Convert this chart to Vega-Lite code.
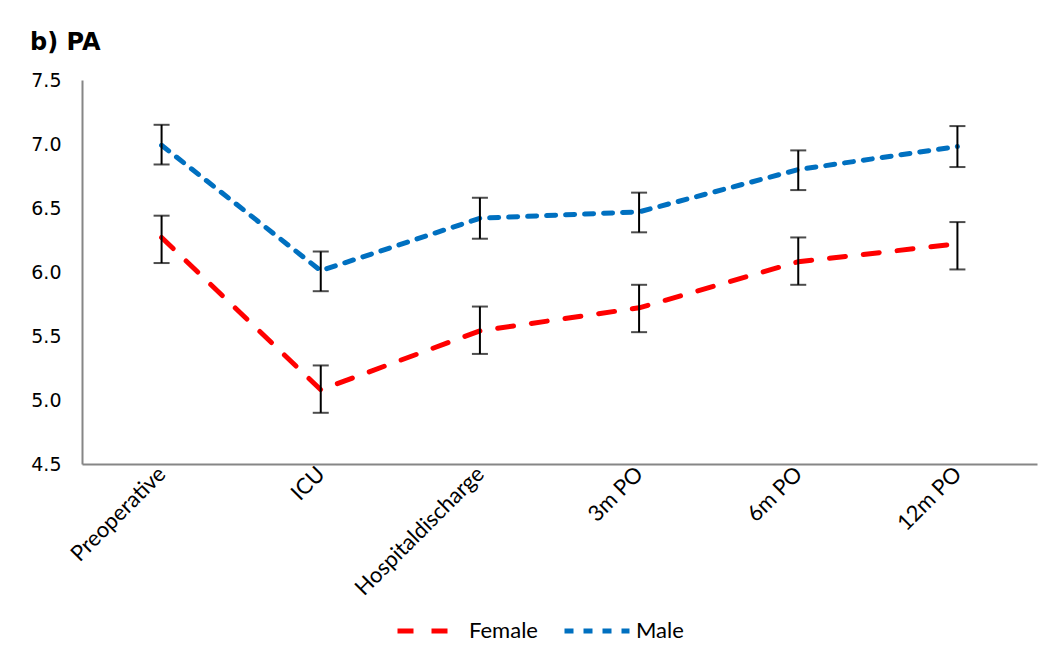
{
  "$schema": "https://vega.github.io/schema/vega-lite/v6.json",
  "autosize": {"type": "none"},
  "width": 955,
  "height": 384,
  "padding": {"left": 82, "top": 80, "right": 13, "bottom": 191},
  "background": "white",
  "title": {"text": "b) PA", "anchor": "start", "frame": "group", "dx": -52, "dy": -4, "font": "DejaVu Sans", "fontSize": 24, "fontWeight": "bold", "color": "#000000", "offset": 12},
  "data": {"values": [
    {"time": "Preoperative", "sex": "Female", "mean": 6.27, "lo": 6.07, "hi": 6.44},
    {"time": "ICU", "sex": "Female", "mean": 5.08, "lo": 4.90, "hi": 5.27},
    {"time": "Hospitaldischarge", "sex": "Female", "mean": 5.54, "lo": 5.36, "hi": 5.73},
    {"time": "3m PO", "sex": "Female", "mean": 5.72, "lo": 5.53, "hi": 5.90},
    {"time": "6m PO", "sex": "Female", "mean": 6.08, "lo": 5.90, "hi": 6.27},
    {"time": "12m PO", "sex": "Female", "mean": 6.22, "lo": 6.02, "hi": 6.39},
    {"time": "Preoperative", "sex": "Male", "mean": 6.99, "lo": 6.84, "hi": 7.15},
    {"time": "ICU", "sex": "Male", "mean": 6.01, "lo": 5.85, "hi": 6.16},
    {"time": "Hospitaldischarge", "sex": "Male", "mean": 6.42, "lo": 6.26, "hi": 6.58},
    {"time": "3m PO", "sex": "Male", "mean": 6.47, "lo": 6.31, "hi": 6.62},
    {"time": "6m PO", "sex": "Male", "mean": 6.80, "lo": 6.64, "hi": 6.95},
    {"time": "12m PO", "sex": "Male", "mean": 6.98, "lo": 6.82, "hi": 7.14}
  ]},
  "encoding": {
    "x": {
      "field": "time", "type": "ordinal",
      "sort": ["Preoperative", "ICU", "Hospitaldischarge", "3m PO", "6m PO", "12m PO"],
      "scale": {"type": "point", "padding": 0.5},
      "axis": {"title": null, "labelAngle": -45, "labelAlign": "right", "labelBaseline": "middle", "labelPadding": 6, "labelFont": "Lato", "labelFontSize": 22, "labelColor": "#000000", "ticks": false, "domainColor": "#868686", "domainWidth": 2, "grid": false}
    }
  },
  "layer": [
    {
      "mark": {"type": "line", "strokeWidth": 5, "strokeCap": "round"},
      "encoding": {
        "y": {
          "field": "mean", "type": "quantitative",
          "scale": {"domain": [4.5, 7.5], "nice": false, "zero": false},
          "axis": {"title": null, "values": [4.5, 5.0, 5.5, 6.0, 6.5, 7.0, 7.5], "format": ".1f", "labelFont": "DejaVu Sans", "labelFontSize": 19, "labelColor": "#000000", "labelPadding": 21, "ticks": false, "grid": false, "domainColor": "#868686", "domainWidth": 2}
        },
        "color": {
          "field": "sex", "type": "nominal",
          "scale": {"domain": ["Female", "Male"], "range": ["#FF0000", "#0070C0"]},
          "legend": {"title": null, "orient": "none", "legendX": 313, "legendY": 516, "direction": "horizontal", "symbolType": "stroke", "symbolSize": 4225, "symbolStrokeWidth": 5, "labelFont": "Lato", "labelFontSize": 22, "labelColor": "#000000", "columnPadding": 16, "labelOffset": 4}
        },
        "strokeDash": {
          "field": "sex", "type": "nominal",
          "scale": {"domain": ["Female", "Male"], "range": [[16, 18], [9, 10]]},
          "legend": {"title": null, "orient": "none", "legendX": 313, "legendY": 516, "direction": "horizontal", "symbolType": "stroke", "symbolSize": 4225, "symbolStrokeWidth": 5, "labelFont": "Lato", "labelFontSize": 22, "labelColor": "#000000", "columnPadding": 16, "labelOffset": 4}
        }
      }
    },
    {
      "mark": {"type": "rule", "color": "#000000", "strokeWidth": 2},
      "encoding": {
        "y": {"field": "lo", "type": "quantitative"},
        "y2": {"field": "hi"}
      }
    },
    {
      "mark": {"type": "tick", "color": "#000000", "thickness": 2, "size": 16, "orient": "horizontal"},
      "encoding": {"y": {"field": "lo", "type": "quantitative"}}
    },
    {
      "mark": {"type": "tick", "color": "#000000", "thickness": 2, "size": 16, "orient": "horizontal"},
      "encoding": {"y": {"field": "hi", "type": "quantitative"}}
    }
  ],
  "config": {"view": {"stroke": null}}
}
